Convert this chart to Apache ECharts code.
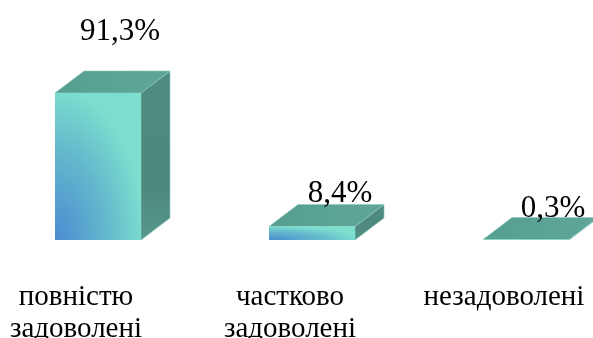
<!DOCTYPE html>
<html><head><meta charset="utf-8">
<style>html,body{margin:0;padding:0;background:#fff}#c{width:593px;height:338px}</style>
<script src="https://cdn.jsdelivr.net/npm/echarts@6/dist/echarts.min.js"></script>
</head><body><div id="c"></div>
<script>
const categories = ['повністю\nзадоволені', 'частково\nзадоволені', 'незадоволені'];
const values = [91.3, 8.4, 0.3];
const valueLabels = ['91,3%', '8,4%', '0,3%'];

const font = '"Liberation Serif","Times New Roman",serif';
const DX = 29, DY = 22, W = 86, LEFT = 21;
const labelGap = [61, 33, 31], labelShift = [44, 50, 49];

function renderItem(params, api) {
  const i = params.dataIndex;
  const p = api.coord([i, api.value(1)]);
  const b = api.coord([i, 0]);
  const x0 = p[0] - LEFT, x1 = x0 + W, yt = p[1], yb = b[1];
  const h = Math.max(yb - yt, 0.5);
  const line = { stroke: '#8fc9bd', lineWidth: 0.6 };
  return { type: 'group', children: [
    { type: 'polygon', shape: { points: [[x1, yb], [x1 + DX, yb - DY], [x1 + DX, yt - DY], [x1, yt]] },
      style: { fill: new echarts.graphic.LinearGradient(0, 0, 0, 1, [
        { offset: 0, color: '#4f8b80' }, { offset: 0.7, color: '#4e887f' }, { offset: 1, color: '#569a8c' }]), ...line } },
    { type: 'polygon', shape: { points: [[x0, yt], [x0 + DX, yt - DY], [x1 + DX, yt - DY], [x1, yt]] },
      style: { fill: new echarts.graphic.LinearGradient(0, 0, 1, 0, [
        { offset: 0, color: '#569f90' }, { offset: 1, color: '#5fa698' }]), ...line } },
    { type: 'rect', x: x0, y: yt, scaleX: W / 100, scaleY: h / 100,
      shape: { x: 0, y: 0, width: 100, height: 100 },
      style: { fill: new echarts.graphic.RadialGradient(0, 1, 1.1, [
        { offset: 0, color: '#4a8cd2' }, { offset: 0.55, color: '#64b8cc' }, { offset: 0.95, color: '#7cdfce' }, { offset: 1, color: '#7cdfce' }]) } },
    { type: 'text', style: { x: p[0] + labelShift[i], y: yt - labelGap[i], text: valueLabels[i],
        font: '31px ' + font, fill: '#000', align: 'center', verticalAlign: 'middle' }, z2: 10 }
  ] };
}

const chart = echarts.init(document.getElementById('c'), null, { renderer: 'canvas' });
chart.setOption({
  animation: false,
  backgroundColor: '#fff',
  grid: { left: -31, right: -18, top: 79, bottom: 98, outerBoundsMode: 'none', containLabel: false },
  xAxis: { type: 'category', data: categories, axisLine: { show: false }, axisTick: { show: false },
    axisLabel: { fontFamily: font, fontSize: 29, color: '#000', lineHeight: 32, margin: 41, interval: 0, hideOverlap: false } },
  yAxis: { type: 'value', min: 0, max: 100, show: false },
  series: [{ type: 'custom', renderItem, clip: false,
    data: values.map((v, i) => [i, v]), encode: { x: 0, y: 1 } }]
});
</script></body></html>
